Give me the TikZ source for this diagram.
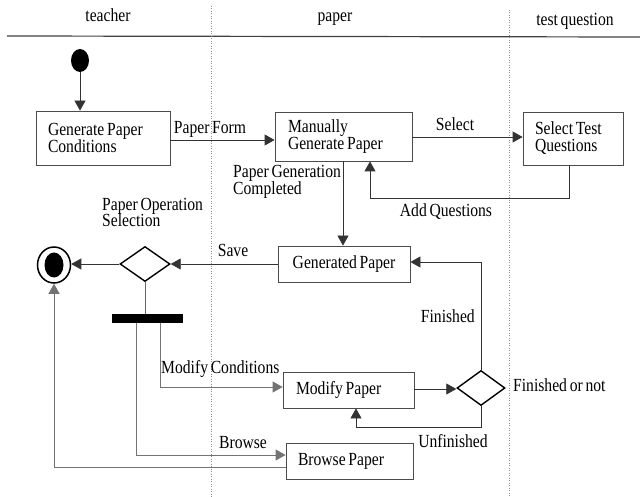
\documentclass[tikz,border=0pt]{standalone}
\usepackage{fontspec}
\setmainfont[FakeStretch=0.845,WordSpace=0.7]{Liberation Serif}
\usetikzlibrary{arrows.meta,shapes.geometric}
\begin{document}
\begin{tikzpicture}[x=1pt,y=-1pt,
  font=\fontsize{18.5}{17}\selectfont,
  box/.style={draw=black!70, line width=0.8pt, rectangle, inner ysep=0pt, align=flush left},
  dec/.style={draw=black, line width=1.4pt, diamond, aspect=1.4, inner sep=0pt},
  lbl/.style={inner sep=0pt, anchor=base},
  arr/.style={draw=black!80, line width=0.8pt, -{Triangle[length=10pt,width=11pt]}},
  plain/.style={draw=black!60, line width=0.8pt},
  garr/.style={draw=black!55, line width=0.8pt, -{Triangle[length=10pt,width=11pt]}},
  lane/.style={draw=black!45, line width=0.5pt, dotted}
]
\useasboundingbox (0,0) rectangle (640,497);
% header
\node[lbl] (hT) at (108,22) {teacher};
\node[lbl] (hP) at (335,22) {paper};
\node[lbl] (hQ) at (575,26) {test question};
\coordinate (hl1) at (7,36);
\coordinate (hl2) at (640,37);
\draw[draw=black!75, line width=1.2pt] (hl1) -- (hl2);
\coordinate (v1a) at (211,6);
\coordinate (v1b) at (211,497);
\coordinate (v2a) at (509,10);
\coordinate (v2b) at (509,497);
\draw[lane] (v1a) -- (v1b);
\draw[lane] (v2a) -- (v2b);

% nodes
\node[ellipse, fill=black, minimum width=18, minimum height=23, inner sep=0pt] (ini) at (80,60.5) {};
\node[box, minimum height=54, text width=110, inner xsep=12] (gpc) at (103,138) {Generate Paper\\Conditions};
\node[box, minimum height=49, text width=111, inner xsep=13] (mgp) at (343.5,136.5) {Manually\\Generate Paper};
\node[box, minimum height=53, text width=76, inner xsep=12] (stq) at (573,138.5) {Select Test\\Questions};
\node[box, minimum height=36, minimum width=132, align=center, inner xsep=0pt] (gp) at (344,264) {Generated Paper};
\node[dec, minimum width=50, minimum height=35] (d1) at (145,264) {};
\node[ellipse, draw=black, line width=1.5pt, minimum width=33, minimum height=36, inner sep=0pt] (fin) at (54,265) {};
\node[ellipse, fill=black, minimum width=19, minimum height=25, inner sep=0pt] (fin2) at (fin) {};
\node[fill=black, minimum width=71, minimum height=9, inner sep=0pt] (bar) at (147.5,318.5) {};
\node[box, minimum height=36, text width=105, inner xsep=13] (mp) at (348.5,390) {Modify Paper};
\node[dec, minimum width=48, minimum height=35] (d2) at (481,388) {};
\node[box, minimum height=36, text width=103, inner xsep=12] (bp) at (349.5,461) {Browse Paper};

% labels
\node[lbl] (lPF) at (210,134) {Paper Form};
\node[lbl] (lSel) at (455,131) {Select};
\node[lbl] (lAQ) at (446,217) {Add Questions};
\node[lbl, anchor=base west, align=left] (lPGC) at (233,195) {Paper Generation\\Completed};
\node[lbl] (lSave) at (233,256) {Save};
\node[lbl, anchor=base west, align=left] (lPOS) at (102,227) {Paper Operation\\Selection};
\node[lbl, anchor=base west] (lMC) at (161,373) {Modify Conditions};
\node[lbl] (lBr) at (243,448) {Browse};
\node[lbl, anchor=base east] (lFin) at (475,322) {Finished};
\node[lbl] (lUnf) at (453,447) {Unfinished};
\node[lbl, anchor=base west] (lFon) at (513,391) {Finished or not};

% connectors
\draw[arr] (ini.south) -- (ini.south |- gpc.north);
\draw[arr] (gpc.east |- 0,140) -- (mgp.west |- 0,140);
\draw[arr] (mgp.east |- 0,137) -- (stq.west |- 0,137);
\draw[arr] (stq.south -| 569,0) -- (569,198) -- (370,198) -- (mgp.south -| 370,0);
\draw[arr] (mgp.south -| 343,0) -- (gp.north -| 343,0);
\draw[arr] (gp.west) -- (gp.west -| d1.east);
\draw[arr] (d1.west) -- (d1.west -| fin.east);
\draw[plain] (d1.south) -- (d1.south |- bar.north);
\draw[garr] (bar.south -| 160,0) -- (160,387) -- (mp.west |- 0,387);
\draw[garr] (bar.south -| 136,0) -- (136,455) -- (bp.west |- 0,455);
\draw[garr] (bp.west |- 0,467) -- (fin.south |- 0,467) -- (fin.south);
\draw[arr] (mp.east |- 0,389) -- (d2.west |- 0,389);
\draw[arr] (d2.north) -- (d2.north |- 0,262) -- (gp.east |- 0,262);
\draw[arr] (d2.south) -- (d2.south |- 0,427) -- (356,427) -- (mp.south -| 356,0);
\end{tikzpicture}
\end{document}
